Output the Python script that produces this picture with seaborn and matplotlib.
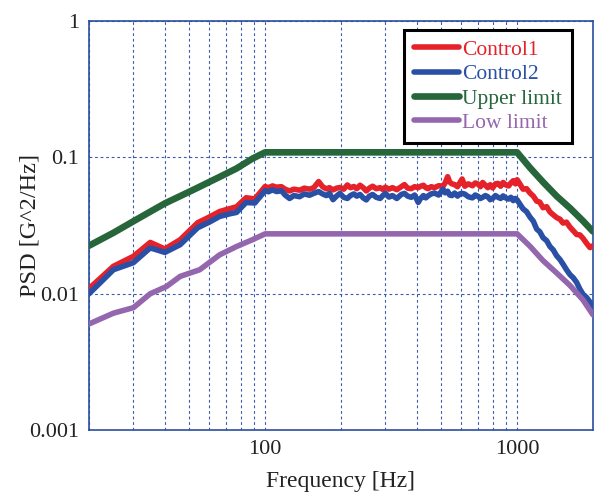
import matplotlib
matplotlib.use("Agg")
import matplotlib.pyplot as plt
import matplotlib.ticker as mticker
import seaborn as sns
import pandas as pd

# ---------------- data ----------------
freq = [20, 25, 30, 35, 40, 46, 54, 60, 66, 72,
        77, 84, 91, 100,
        103, 107, 111, 116, 120, 125, 130, 137, 143, 150,
        156, 163, 169, 175, 180, 186, 192, 198, 205, 212,
        218, 225, 231, 238, 245, 252, 259, 267, 276, 286,
        293, 300, 310, 320, 333, 347, 357, 368, 380, 392,
        405, 414, 425, 434, 443, 456, 470, 488, 508, 518,
        530, 540, 551, 565, 580, 592, 605, 620, 640, 665,
        682, 700, 715, 730, 748, 765, 782, 800, 820, 840,
        860, 880, 900, 925, 945, 965, 985, 1000,
        1025, 1055, 1090, 1125, 1160, 1196, 1230, 1267, 1310, 1350,
        1390, 1435, 1480, 1521, 1570, 1621, 1670, 1723, 1775, 1826,
        1885, 1946, 2000]

control1 = [0.0109, 0.0159, 0.0188, 0.0238, 0.0213, 0.0249, 0.0332, 0.0365, 0.0401, 0.0420,
            0.0434, 0.0506, 0.0496, 0.0612,
            0.0600, 0.0618, 0.0605, 0.0610, 0.0585, 0.0568, 0.0585, 0.0575, 0.0595, 0.0585,
            0.0600, 0.0665, 0.0610, 0.0588, 0.0600, 0.0578, 0.0595, 0.0602, 0.0585, 0.0628,
            0.0600, 0.0612, 0.0590, 0.0625, 0.0600, 0.0568, 0.0595, 0.0615, 0.0590, 0.0600,
            0.0582, 0.0605, 0.0585, 0.0600, 0.0580, 0.0610, 0.0632, 0.0595, 0.0590, 0.0610,
            0.0600, 0.0615, 0.0625, 0.0600, 0.0590, 0.0610, 0.0600, 0.0620, 0.0615, 0.0650,
            0.0722, 0.0660, 0.0640, 0.0632, 0.0610, 0.0650, 0.0695, 0.0615, 0.0640, 0.0620,
            0.0650, 0.0638, 0.0610, 0.0655, 0.0625, 0.0600, 0.0630, 0.0598, 0.0640, 0.0645,
            0.0615, 0.0655, 0.0630, 0.0618, 0.0650, 0.0675, 0.0640, 0.0686,
            0.0640, 0.0585, 0.0590, 0.0548, 0.0520, 0.0478, 0.0470, 0.0428, 0.0435, 0.0398,
            0.0380, 0.0362, 0.0352, 0.0330, 0.0335, 0.0308, 0.0290, 0.0272, 0.0270, 0.0255,
            0.0235, 0.0218, 0.0225]

control2 = [0.0100, 0.0150, 0.0169, 0.0217, 0.0201, 0.0229, 0.0305, 0.0335, 0.0369, 0.0385,
            0.0395, 0.0467, 0.0463, 0.0570,
            0.0560, 0.0578, 0.0562, 0.0570, 0.0530, 0.0500, 0.0525, 0.0515, 0.0540, 0.0528,
            0.0545, 0.0562, 0.0540, 0.0525, 0.0545, 0.0490, 0.0520, 0.0545, 0.0510, 0.0500,
            0.0525, 0.0540, 0.0520, 0.0535, 0.0505, 0.0488, 0.0520, 0.0535, 0.0510, 0.0500,
            0.0525, 0.0545, 0.0512, 0.0525, 0.0500, 0.0535, 0.0545, 0.0520, 0.0510, 0.0530,
            0.0468, 0.0500, 0.0525, 0.0505, 0.0522, 0.0540, 0.0548, 0.0530, 0.0585, 0.0550,
            0.0565, 0.0530, 0.0525, 0.0548, 0.0520, 0.0540, 0.0545, 0.0538, 0.0515, 0.0505,
            0.0530, 0.0518, 0.0500, 0.0510, 0.0525, 0.0515, 0.0490, 0.0500, 0.0525, 0.0510,
            0.0500, 0.0522, 0.0505, 0.0495, 0.0510, 0.0482, 0.0500, 0.0488,
            0.0455, 0.0420, 0.0400, 0.0365, 0.0340, 0.0298, 0.0285, 0.0258, 0.0245, 0.0222,
            0.0210, 0.0190, 0.0178, 0.0165, 0.0150, 0.0138, 0.0131, 0.0121, 0.0108, 0.0099,
            0.0094, 0.0087, 0.0079]

upper_freq = [20, 25, 30, 35, 40, 50, 55, 66, 77, 89, 100, 1000,
              1125, 1267, 1435, 1621, 1826, 2000]
upper_limit = [0.0225, 0.0280, 0.0340, 0.0400, 0.0460, 0.0560, 0.0610, 0.0720,
               0.0830, 0.0980, 0.1090, 0.1090,
               0.0840, 0.0660, 0.0520, 0.0425, 0.0342, 0.0286]

low_freq = [20, 25, 30, 35, 40.6, 46, 55, 66, 77, 89, 100, 1000,
            1125, 1267, 1435, 1621, 1826, 2000]
low_limit = [0.0060, 0.0072, 0.0079, 0.0100, 0.0113, 0.0134, 0.0150, 0.0193,
             0.0222, 0.0249, 0.0275, 0.0275,
             0.0223, 0.0175, 0.0142, 0.0115, 0.0090, 0.0070]

series_names = ["Control1", "Control2", "Upper limit", "Low limit"]
colors = ["#e52229", "#2a50a6", "#27653a", "#9466ae"]
widths = [4.0, 4.0, 4.8, 4.0]

x_ticks = [100, 1000]
x_tick_labels = ["100", "1000"]
y_ticks = [0.001, 0.01, 0.1, 1]
y_tick_labels = ["0.001", "0.01", "0.1", "1"]

assert len(freq) == len(control1) == len(control2)

# ---------------- frame ----------------
df = pd.concat([
    pd.DataFrame({"f": freq, "psd": control1, "series": series_names[0]}),
    pd.DataFrame({"f": freq, "psd": control2, "series": series_names[1]}),
    pd.DataFrame({"f": upper_freq, "psd": upper_limit, "series": series_names[2]}),
    pd.DataFrame({"f": low_freq, "psd": low_limit, "series": series_names[3]}),
], ignore_index=True)

sns.set_style("white")
plt.rcParams["font.family"] = ["Liberation Serif", "DejaVu Serif"]

fig = plt.figure(figsize=(5.95, 4.92), dpi=100)
ax = fig.add_axes([0.1496, 0.126, 0.847, 0.831])

spine_c = "#2a4ea0"
grid_c = "#3a5cb0"

ax.set_xscale("log")
ax.set_yscale("log")

for name, c, lw in zip(series_names, colors, widths):
    sub = df[df["series"] == name]
    sns.lineplot(data=sub, x="f", y="psd", ax=ax, color=c, linewidth=lw,
                 estimator=None, sort=False, label=name, zorder=3)

ax.set_xscale("log")
ax.set_yscale("log")
ax.set_xlim(20, 2000)
ax.set_ylim(0.001, 1)

ax.xaxis.set_major_locator(mticker.FixedLocator(x_ticks))
ax.xaxis.set_major_formatter(mticker.FixedFormatter(x_tick_labels))
ax.xaxis.set_minor_locator(mticker.LogLocator(base=10, subs=range(2, 10), numticks=20))
ax.xaxis.set_minor_formatter(mticker.NullFormatter())
ax.yaxis.set_major_locator(mticker.FixedLocator(y_ticks))
ax.yaxis.set_major_formatter(mticker.FixedFormatter(y_tick_labels))
ax.yaxis.set_minor_locator(mticker.NullLocator())

ax.grid(True, which="major", axis="both", color=grid_c, linestyle=(0, (2.5, 2.5)), linewidth=0.8, zorder=1)
ax.grid(True, which="minor", axis="x", color=grid_c, linestyle=(0, (2.5, 2.5)), linewidth=0.8, zorder=1)
ax.set_axisbelow(True)

ax.tick_params(axis="both", which="major", direction="in", length=5, color=spine_c,
               labelsize=16, pad=7, labelcolor="#222222")
ax.tick_params(axis="x", which="minor", direction="in", length=0)
for s in ax.spines.values():
    s.set_color(spine_c)
    s.set_linewidth(1.2)
    s.set_visible(True)

ax.set_xlabel("Frequency [Hz]", fontsize=17, color="#222222", labelpad=9)
ax.set_ylabel("PSD [G^2/Hz]", fontsize=17.5, color="#222222", labelpad=-8)

leg = ax.legend(loc="upper right", bbox_to_anchor=(0.958, 0.978), fontsize=15.5,
                frameon=True, fancybox=False, handlelength=2.1, handletextpad=0.15,
                borderpad=0.45, labelspacing=0.2, borderaxespad=0)
frame = leg.get_frame()
frame.set_edgecolor("black")
frame.set_linewidth(2.2)
frame.set_alpha(1)
for txt, c in zip(leg.get_texts(), colors):
    txt.set_color(c)
for h, lw in zip(leg.get_lines(), widths):
    h.set_linewidth(lw)

fig.savefig("out.png", dpi=100)
